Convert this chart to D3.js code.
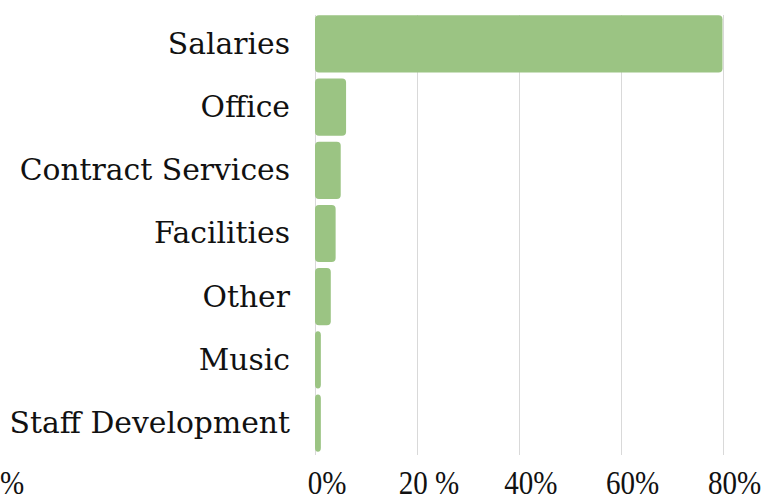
<!DOCTYPE html>
<html>
<head>
<meta charset="utf-8">
<script src="https://cdn.jsdelivr.net/npm/d3@7"></script>
<style>
  html, body { margin: 0; padding: 0; background: #fff; }
  svg { display: block; }
</style>
</head>
<body>
<svg id="chart"></svg>
<script>
const width = 766;
const height = 501;

// data
const categories = ["Salaries", "Office", "Contract Services", "Facilities", "Other", "Music", "Staff Development"];
const shares = [80, 6.1, 5.05, 4.05, 3.1, 1.15, 1.15];
const tickValues = [0, 20, 40, 60, 80];
const tickLabels = ["0%", "20 %", "40%", "60%", "80%"];

const svg = d3.select("#chart").attr("width", width).attr("height", height);

const x = d3.scaleLinear().domain([0, 80]).range([315, 722.5]);
const y = d3.scaleBand().domain(categories).range([12, 455]).paddingInner(0.095).paddingOuter(0.05);

// gridlines
svg.append("g")
  .selectAll("line")
  .data(tickValues)
  .join("line")
  .attr("x1", d => Math.round(x(d)) + 0.5)
  .attr("x2", d => Math.round(x(d)) + 0.5)
  .attr("y1", 15)
  .attr("y2", 455)
  .attr("stroke", "#d9d9d9")
  .attr("stroke-width", 1);

// bars
svg.append("g")
  .selectAll("rect")
  .data(categories)
  .join("rect")
  .attr("x", x(0))
  .attr("y", d => y(d))
  .attr("width", (d, i) => x(shares[i]) - x(0))
  .attr("height", y.bandwidth())
  .attr("rx", 4)
  .attr("fill", "#9bc483");

// category labels
svg.append("g")
  .selectAll("text")
  .data(categories)
  .join("text")
  .attr("x", 290)
  .attr("y", d => y(d) + y.bandwidth() / 2)
  .attr("dy", "0.33em")
  .attr("text-anchor", "end")
  .attr("font-family", "'DejaVu Serif', serif")
  .attr("font-size", 29.8)
  .attr("fill", "#111")
  .text(d => d);

// tick labels (narrow, tall serif)
svg.append("g")
  .selectAll("text")
  .data(tickValues)
  .join("text")
  .attr("transform", d => `translate(${x(d) + 12},494) scale(0.88,1)`)
  .attr("text-anchor", "middle")
  .attr("font-family", "'Liberation Serif', serif")
  .attr("font-size", 33)
  .attr("fill", "#111")
  .text((d, i) => tickLabels[i]);

// stray clipped label at the far left
svg.append("text")
  .attr("transform", "translate(0,494) scale(0.88,1)")
  .attr("font-family", "'Liberation Serif', serif")
  .attr("font-size", 33)
  .attr("fill", "#111")
  .text("%");
</script>
</body>
</html>
